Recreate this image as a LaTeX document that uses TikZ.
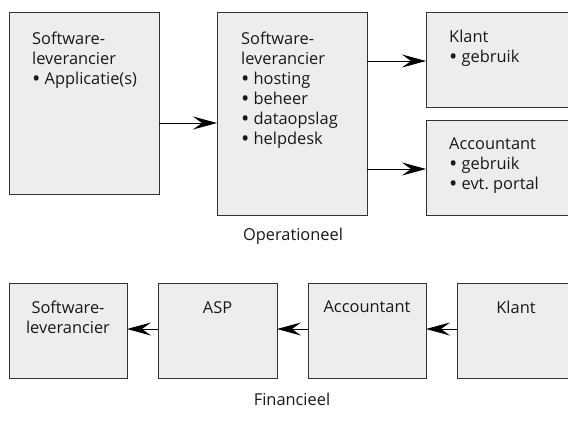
\documentclass[tikz,border=0pt]{standalone}
\usepackage{fontspec}
\usepackage{graphicx}
\setmainfont{Open Sans}
\usetikzlibrary{arrows.meta}
\newcommand{\bul}{\raisebox{-0.1em}{\scalebox{1.35}{\textbullet}}\hspace{0.25em}}
\begin{document}
\begin{tikzpicture}[x=1bp,y=-1bp,
  box/.style={draw=black!80, fill=black!7, line width=0.8bp, inner sep=0pt, outer sep=0pt, anchor=north west},
  lbl/.style={anchor=north west, align=left, inner sep=0pt, font=\fontsize{16.4bp}{20bp}\selectfont, text=black!90},
  clbl/.style={anchor=north, align=center, inner sep=0pt, font=\fontsize{16.4bp}{20bp}\selectfont, text=black!90},
  arr/.style={-{Stealth[length=24bp,width=13bp,inset=9bp]}, line width=0.9bp}]
\useasboundingbox (0,0) rectangle (568,422);
\clip (0,0) rectangle (568,422);
% top row
\node[box, minimum width=150bp, minimum height=182bp] (sw) at (9,12) {};
\node[box, minimum width=150bp, minimum height=203bp] (asp) at (217,12) {};
\node[box, minimum width=150bp, minimum height=95bp] (kl) at (426,12) {};
\node[box, minimum width=150bp, minimum height=95bp] (acc) at (426,120) {};
\node[lbl] (swt) at (32,32) {Software-\\leverancier\\\bul Applicatie(s)};
\node[lbl] (aspt) at (241,32) {Software-\\leverancier\\\bul hosting\\\bul beheer\\\bul dataopslag\\\bul helpdesk};
\node[lbl] (klt) at (449,30) {Klant\\\bul gebruik};
\node[lbl] (acct) at (449,138) {Accountant\\\bul gebruik\\\bul evt.\ portal};
\coordinate (a1) at (159,123);
\coordinate (a2) at (367,61);
\coordinate (a3) at (367,169);
\draw[arr] (a1) -- (a1 -| asp.west);
\draw[arr] (a2) -- (a2 -| kl.west);
\draw[arr] (a3) -- (a3 -| acc.west);
\node[clbl] (op) at (293,228) {Operationeel};
% bottom row
\node[box, minimum width=118bp, minimum height=95bp] (bsw) at (9,283) {};
\node[box, minimum width=119bp, minimum height=95bp] (basp) at (158,283) {};
\node[box, minimum width=118bp, minimum height=95bp] (bacc) at (308,283) {};
\node[box, minimum width=118bp, minimum height=95bp] (bkl) at (457,283) {};
\node[clbl] (bswt) at (68,301) {Software-\\leverancier};
\node[clbl] (bspt) at (217.5,301) {ASP};
\node[clbl] (bacct) at (367,301) {Accountant};
\node[clbl] (bklt) at (516,301) {Klant};
\draw[arr] (bkl.west |- 0,329) -- (bacc.east |- 0,329);
\draw[arr] (bacc.west |- 0,329) -- (basp.east |- 0,329);
\draw[arr] (basp.west |- 0,329) -- (bsw.east |- 0,329);
\node[clbl] (fin) at (292,393) {Financieel};
\end{tikzpicture}
\end{document}
